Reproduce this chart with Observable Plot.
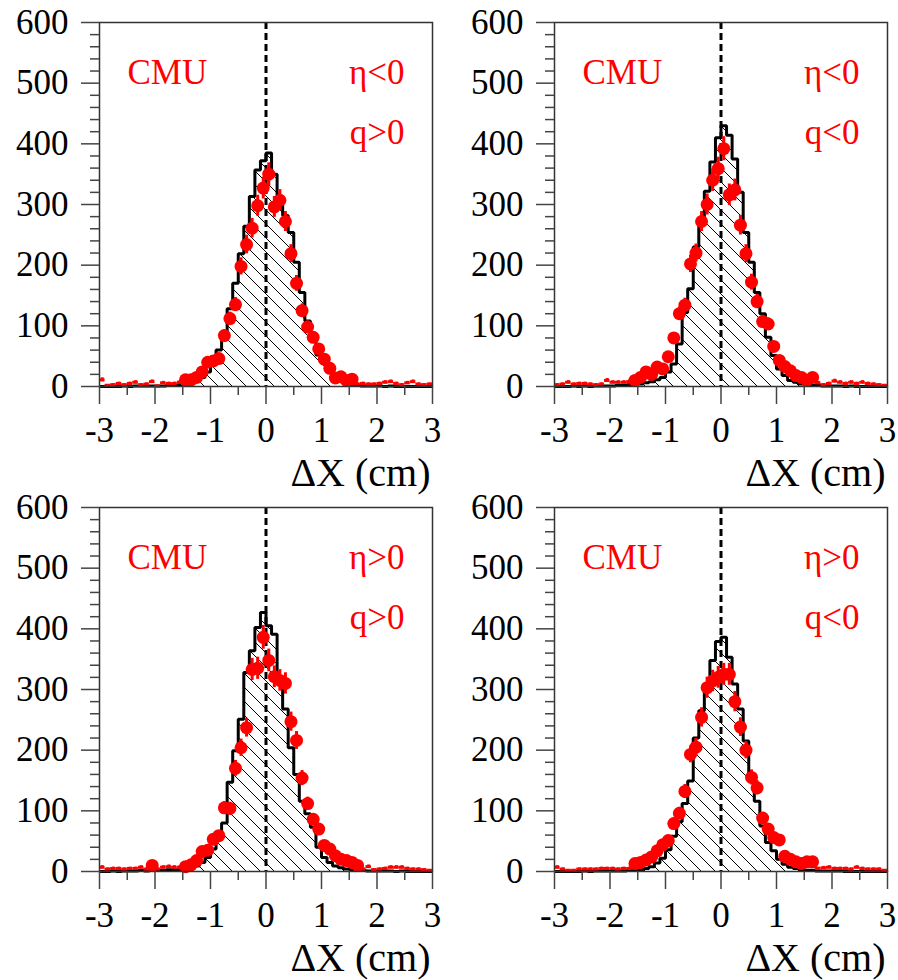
<!DOCTYPE html>
<html><head><meta charset="utf-8">
<script src="https://cdn.jsdelivr.net/npm/d3@7"></script>
<script src="https://cdn.jsdelivr.net/npm/@observablehq/plot@0.6"></script>
<style>
html,body{margin:0;padding:0;background:#fff;overflow:hidden;}
#wrap{position:relative;width:898px;height:980px;background:#fff;}
.panel{position:absolute;}
.panel text{font-family:"Liberation Serif","Times New Roman",serif !important;font-variant:normal !important;}
</style></head><body>
<svg width="0" height="0" style="position:absolute"><defs>
<pattern id="hatch" patternUnits="userSpaceOnUse" width="14" height="14">
<path d="M-2,-2 L16,16 M-2,12 L2,16 M12,-2 L16,2" stroke="black" stroke-width="1" fill="none"/>
</pattern></defs></svg>
<div id="wrap"></div>
<script>
// ---- categories (bin centres, cm) ----
const binCenters = [-2.95,-2.85,-2.75,-2.65,-2.55,-2.45,-2.35,-2.25,-2.15,-2.05,
  -1.95,-1.85,-1.75,-1.65,-1.55,-1.45,-1.35,-1.25,-1.15,-1.05,
  -0.95,-0.85,-0.75,-0.65,-0.55,-0.45,-0.35,-0.25,-0.15,-0.05,
  0.05,0.15,0.25,0.35,0.45,0.55,0.65,0.75,0.85,0.95,
  1.05,1.15,1.25,1.35,1.45,1.55,1.65,1.75,1.85,1.95,
  2.05,2.15,2.25,2.35,2.45,2.55,2.65,2.75,2.85,2.95];

// ---- tick labels ----
const xTicks = [-3,-2,-1,0,1,2,3];
const xMinorTicks = [-2.5,-1.5,-0.5,0.5,1.5,2.5];
const yTicks = [0,100,200,300,400,500,600];
const yMinorTicks = [20,40,60,80,120,140,160,180,220,240,260,280,320,340,360,380,420,440,460,480,520,540,560,580];
const xTitle = "ΔX (cm)";
const refLine = [0];

// ---- panel labels ----
const detectorLabels = ["CMU","CMU","CMU","CMU"];
const etaLabels = ["η<0","η<0","η>0","η>0"];
const chargeLabels = ["q>0","q<0","q>0","q<0"];

// ---- histograms (simulation, black hatched) ----
const hist1 = [0,0,0,0,1,0,1,1,1,1,1,1,2,2,3,
  4,6,9,15,24,38,60,88,128,170,219,264,313,357,372,
  385,350,312,282,254,205,155,108,75,52,38,25,15,9,5,3,2,
  1,1,1,1,0,1,0,0,0,0,0,0,0];
const hist2 = [0,0,0,1,0,1,0,1,1,1,1,2,2,3,3,
  4,6,8,11,15,24,37,70,122,161,230,274,322,370,410,
  430,414,375,320,254,205,155,120,81,51,29,18,10,7,4,3,2,
  2,1,1,1,1,0,1,0,0,0,0,0,0];
const hist3 = [0,0,1,0,1,1,1,2,1,2,2,2,3,3,3,
  4,6,9,15,23,37,62,80,147,199,251,328,364,402,427,
  405,391,314,268,204,160,116,95,73,40,23,15,9,6,4,3,2,
  2,1,1,1,1,1,0,1,0,0,0,0,0];
const hist4 = [0,0,0,0,0,1,0,1,1,1,1,1,1,2,2,
  3,5,8,14,22,36,58,82,112,149,220,265,300,348,379,
  386,353,309,268,215,158,116,75,48,34,20,12,7,5,3,2,2,
  1,1,1,1,1,0,0,0,0,0,0,0,0];

// ---- data (red points) ----
const data1 = [11,2,3,5,3,5,7,3,4,8,1,6,5,5,7,
  11,11,15,24,40,42,46,84,112,135,198,234,261,298,327,
  350,296,307,272,219,170,125,98,81,62,45,30,14,16,10,12,4,
  5,4,4,5,7,8,5,3,6,8,4,3,4];
const data2 = [3,4,7,4,5,5,4,3,4,10,7,7,7,8,10,
  15,24,20,32,29,49,80,120,134,202,220,272,300,340,359,
  392,316,324,266,219,172,140,107,103,66,43,33,26,18,15,10,15,
  6,3,5,9,7,5,7,5,7,5,4,3,2];
const data3 = [7,4,5,5,4,5,5,7,4,10,4,7,8,7,7,
  8,11,18,33,35,53,59,105,104,170,204,237,333,335,386,
  348,321,315,310,247,216,154,112,86,70,43,37,26,20,18,15,10,
  4,8,3,4,5,7,7,7,5,4,4,3,2];
const data4 = [7,4,2,2,4,4,4,4,5,5,5,4,5,5,13,
  15,19,24,34,44,51,79,96,132,193,205,254,303,314,320,
  325,325,280,238,200,155,138,88,70,56,52,25,20,16,13,16,16,
  5,6,7,5,5,5,4,7,5,4,4,4,2];

// bins drawn with full circular markers (others show only their error bars)
const circleRanges = [[-1.45,1.55],[-1.55,1.65],[-1.45,1.65],[-1.55,1.65]];
const extraCircles = [[],[],[-2.05],[]];

const hists = [hist1,hist2,hist3,hist4];
const datas = [data1,data2,data3,data4];
const positions = [{left:0,top:0,w:449,mr:17},{left:455,top:0,w:443,mr:11},
                   {left:0,top:485,w:449,mr:17},{left:455,top:485,w:443,mr:11}];

const binWidth = binCenters[1]-binCenters[0];
const FONT = "Liberation Serif";
const wrap = document.getElementById("wrap");

for (let k=0;k<4;k++){
  const h = hists[k], dv = datas[k];
  const steps = binCenters.map((c,i)=>({x:c-binWidth/2, y:h[i]}));
  steps.push({x:binCenters[binCenters.length-1]+binWidth/2, y:h[h.length-1]});
  const [cLo,cHi] = circleRanges[k];
  const pts = binCenters.map((c,i)=>({x:c, y:dv[i],
     circle:(c>=cLo-1e-6 && c<=cHi+1e-6) || extraCircles[k].some(e=>Math.abs(e-c)<1e-6)}));
  const p = positions[k];
  const chart = Plot.plot({
    width:p.w, height:495,
    marginLeft:99, marginRight:p.mr, marginTop:22, marginBottom:109,
    style:{fontFamily:FONT, background:"transparent", overflow:"visible"},
    x:{domain:[-3,3]},
    y:{domain:[0,600]},
    marks:[
      Plot.areaY(steps,{x:"x",y:"y",curve:"step-after",fill:"url(#hatch)"}),
      Plot.lineY(steps,{x:"x",y:"y",curve:"step-after",stroke:"black",strokeWidth:3,strokeLinejoin:"miter",strokeLinecap:"butt"}),
      Plot.ruleX(refLine,{stroke:"black",strokeWidth:3,strokeDasharray:"7,4"}),
      Plot.ruleY(pts,{y:"y",x1:d=>d.x-binWidth/2,x2:d=>d.x+binWidth/2,stroke:"#ff0000",strokeWidth:3}),
      Plot.ruleX(pts,{x:"x",y1:d=>d.y-Math.sqrt(d.y),y2:d=>d.y+Math.sqrt(d.y),stroke:"#ff0000",strokeWidth:3}),
      Plot.dot(pts.filter(d=>d.circle),{x:"x",y:"y",r:6.5,fill:"#ff0000",stroke:"none"}),
      Plot.frame({stroke:"#333",strokeWidth:1.5}),
      Plot.axisY({ticks:yTicks,tickSize:18,tickPadding:13,fontSize:35,fontFamily:FONT,tickFormat:d=>String(d),label:null,stroke:"#444",strokeWidth:1.5,fill:"black"}),
      Plot.axisY({ticks:yMinorTicks,tickSize:9,tickFormat:()=>"",label:null,stroke:"#444",strokeWidth:1.5}),
      Plot.axisX({ticks:xTicks,tickSize:18,tickPadding:13,fontSize:35,fontFamily:FONT,tickFormat:d=>String(d),label:null,stroke:"#444",strokeWidth:1.5,fill:"black"}),
      Plot.axisX({ticks:xMinorTicks,tickSize:9,tickFormat:()=>"",label:null,stroke:"#444",strokeWidth:1.5}),
      Plot.text([xTitle],{frameAnchor:"bottom-right",textAnchor:"end",lineAnchor:"bottom",dx:-2,dy:99,fontSize:40,fontFamily:FONT,fill:"black"}),
      Plot.text([detectorLabels[k]],{frameAnchor:"top-left",textAnchor:"start",lineAnchor:"bottom",dx:28,dy:61,fontSize:35,fontFamily:FONT,fill:"#ff0000"}),
      Plot.text([etaLabels[k]],{frameAnchor:"top-right",textAnchor:"end",lineAnchor:"bottom",dx:-28,dy:61,fontSize:35,fontFamily:FONT,fill:"#ff0000"}),
      Plot.text([chargeLabels[k]],{frameAnchor:"top-right",textAnchor:"end",lineAnchor:"bottom",dx:-28,dy:121,fontSize:35,fontFamily:FONT,fill:"#ff0000"})
    ]
  });
  chart.classList.add("panel");
  chart.style.left = p.left+"px";
  chart.style.top = p.top+"px";
  chart.style.position = "absolute";
  wrap.appendChild(chart);
}
</script>
</body></html>
